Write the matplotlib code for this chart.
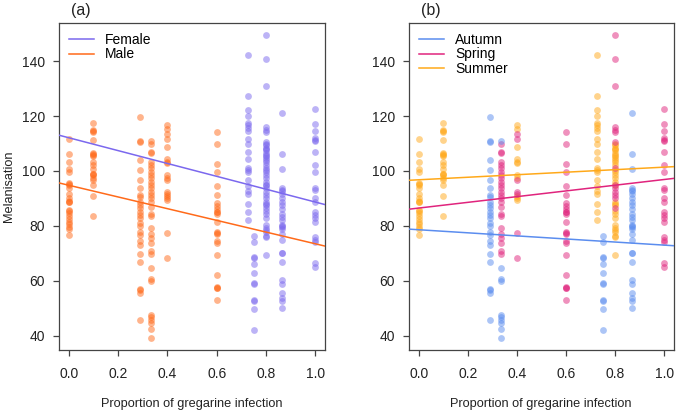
import numpy as np
import matplotlib
matplotlib.use('Agg')
import matplotlib.pyplot as plt
from matplotlib.lines import Line2D

plt.rcParams['font.family'] = ['Liberation Sans', 'DejaVu Sans']

# melanisation per infection level (sex, season)
m_x000_summer = [111.6, 106.1, 103.4, 100.7, 99.8, 95.6, 95.3, 94.8, 93.7, 91.5, 90.1, 89.1,
                 88.8, 88.6, 85.7, 85.4, 84.7, 83.5, 82.5, 81.6, 80.6, 79.6, 78.7, 76.7]
m_x010_summer = [117.5, 114.8, 114.5, 114.1, 111.2, 106.5, 106.1, 105.8, 105.3, 103.4, 102.2,
                 100.7, 99.0, 98.8, 98.5, 97.6, 96.6, 94.9, 91.0, 83.5]
m_x029_autumn = [119.6, 110.9, 110.6, 103.9, 100.2, 96.6, 93.7, 91.3, 90.5, 88.8, 87.6, 86.4,
                 85.2, 84.0, 82.8, 81.1, 79.9, 77.9, 76.7, 74.5, 73.1, 69.7, 66.8, 57.1,
                 56.5, 55.4, 45.9]
m_x033_spring = [109.7, 107.0, 106.7, 103.4, 102.2, 101.0, 99.8, 98.5, 97.3, 96.1, 94.9, 93.7,
                 92.5, 91.3, 90.1, 88.8, 86.9, 84.5, 83.5, 79.2, 77.2, 75.5, 73.6, 70.7, 69.9]
m_x033_autumn = [110.9, 64.8, 60.7, 60.0, 47.6, 46.7, 45.7, 44.5, 42.3, 39.2]
m_x040_summer = [116.8, 115.2, 108.6, 104.5, 103.3, 103.0, 98.6, 97.4, 91.0, 90.2, 89.6]
m_x040_spring = [113.4, 111.6, 96.6, 92.2, 91.6, 77.5, 68.4]
m_x060_spring = [114.3, 109.9, 102.7, 99.5, 94.4, 91.3, 88.4, 87.4, 86.2, 85.2, 84.9, 84.2,
                 81.3, 77.7, 77.3, 77.0, 74.5, 73.6, 69.5, 62.2, 57.8, 57.5, 57.3, 53.0]
f_x073_summer = [142.2, 127.4, 122.1, 119.9, 117.5, 116.7, 115.5, 114.5, 111.6, 109.9, 106.8,
                 104.4, 101.2, 100.2, 99.5, 96.6, 94.7, 92.7, 91.5, 88.1, 85.0, 82.3]
f_x075_autumn = [76.2, 74.1, 68.5, 68.2, 66.3, 62.9, 59.3, 59.0, 53.0, 52.6, 49.6, 42.1]
f_x080_spring = [149.5, 140.7, 131.0, 116.0, 115.0, 114.3, 110.4, 101.0, 94.9, 93.7, 92.5,
                 91.3, 90.1, 86.7]
f_x080_summer = [110.0, 109.5, 108.5, 108.0, 107.5, 106.5, 106.0, 105.6, 104.6, 104.0, 103.4,
                 102.2, 100.5, 99.8, 98.5, 97.3, 96.1, 95.0, 88.8, 88.0, 87.6, 85.5, 84.5,
                 82.8, 80.4, 79.2, 78.5, 77.9, 76.5, 76.0, 69.5]
f_x087_autumn = [121.1, 106.3, 100.7, 93.7, 93.2, 92.7, 91.8, 90.3, 88.8, 87.6, 86.2, 84.5,
                 83.3, 82.3, 80.4, 80.0, 79.6, 78.7, 77.0, 74.8, 70.2, 70.0, 67.0, 60.2,
                 58.8, 55.4, 53.9, 52.5, 50.1]
f_x100_spring = [122.5, 117.0, 114.5, 111.9, 111.2, 110.9, 106.8, 102.2, 99.8, 93.9, 93.0,
                 90.1, 88.6, 85.2, 84.0, 82.8, 81.6, 75.8, 74.8, 74.3, 66.5, 65.1]

groups = [
    (0.0, m_x000_summer, 'Male', 'Summer'),
    (0.1, m_x010_summer, 'Male', 'Summer'),
    (0.29, m_x029_autumn, 'Male', 'Autumn'),
    (0.333, m_x033_spring, 'Male', 'Spring'),
    (0.333, m_x033_autumn, 'Male', 'Autumn'),
    (0.4, m_x040_summer, 'Male', 'Summer'),
    (0.4, m_x040_spring, 'Male', 'Spring'),
    (0.6, m_x060_spring, 'Male', 'Spring'),
    (0.727, f_x073_summer, 'Female', 'Summer'),
    (0.75, f_x075_autumn, 'Female', 'Autumn'),
    (0.8, f_x080_summer, 'Female', 'Summer'),
    (0.8, f_x080_spring, 'Female', 'Spring'),
    (0.867, f_x087_autumn, 'Female', 'Autumn'),
    (1.0, f_x100_spring, 'Female', 'Spring'),
]

# fitted lines
sexes = ['Female', 'Male']
sex_intercept = [112.1, 94.8]
sex_slope = [-23.4, -21.3]
seasons = ['Autumn', 'Spring', 'Summer']
season_intercept = [78.6, 86.5, 96.8]
season_slope = [-5.6, 10.4, 4.6]

sex_col = {'Female': '#7B68EE', 'Male': '#FF6A1A'}
season_col = {'Autumn': '#5B8DEF', 'Spring': '#E0247D', 'Summer': '#FFA91A'}

fig = plt.figure(figsize=(6.76, 4.13), dpi=100)
axa = fig.add_axes([59/676, 63/413, 266/676, 327/413])
axb = fig.add_axes([409/676, 63/413, 265/676, 327/413])


def style(ax):
    ax.set_xlim(-0.04, 1.04)
    ax.set_ylim(34.8, 153.9)
    ax.set_xticks(np.arange(0, 1.01, 0.2))
    ax.set_xticklabels(['0.0', '0.2', '0.4', '0.6', '0.8', '1.0'])
    ax.set_yticks(np.arange(40, 141, 20))
    for s in ax.spines.values():
        s.set_color('#444444')
        s.set_linewidth(0.9)
    ax.tick_params(axis='both', colors='#444444', labelcolor='#222222',
                   labelsize=10, length=4.5, width=0.9)
    ax.tick_params(axis='x', pad=8)
    ax.tick_params(axis='y', pad=5.5)


for x, ys, sx, se in groups:
    axa.scatter([x]*len(ys), ys, s=24, color=sex_col[sx], alpha=0.5, lw=0, zorder=2)
    axb.scatter([x]*len(ys), ys, s=24, color=season_col[se], alpha=0.5, lw=0, zorder=2)

for name, b, m in zip(sexes, sex_intercept, sex_slope):
    axa.axline((0, b), slope=m, color=sex_col[name], lw=1.1, zorder=3)
for name, b, m in zip(seasons, season_intercept, season_slope):
    axb.axline((0, b), slope=m, color=season_col[name], lw=1.1, zorder=3)

style(axa)
style(axb)

ha = [Line2D([], [], color=sex_col[n], lw=1.1) for n in sexes]
axa.legend(ha, sexes, loc='upper left', frameon=False, fontsize=10,
           handlelength=1.8, handletextpad=0.8, labelspacing=0.05,
           borderaxespad=0.3)
hb = [Line2D([], [], color=season_col[n], lw=1.1) for n in seasons]
axb.legend(hb, seasons, loc='upper left', frameon=False, fontsize=10,
           handlelength=1.8, handletextpad=0.8, labelspacing=0.05,
           borderaxespad=0.3)

fig.text(81/676, 1 - 10/413, '(a)', fontsize=11.5, ha='center', va='center', color='#222222')
fig.text(431/676, 1 - 10/413, '(b)', fontsize=11.5, ha='center', va='center', color='#222222')
fig.text(192/676, 1 - 404/413, 'Proportion of gregarine infection', fontsize=9.2,
         ha='center', va='center', color='#222222')
fig.text(541/676, 1 - 404/413, 'Proportion of gregarine infection', fontsize=9.2,
         ha='center', va='center', color='#222222')
fig.text(9/676, 1 - 186/413, 'Melanisation', fontsize=9.2, rotation=90,
         ha='center', va='center', color='#222222')

fig.savefig('out.png', dpi=100)
